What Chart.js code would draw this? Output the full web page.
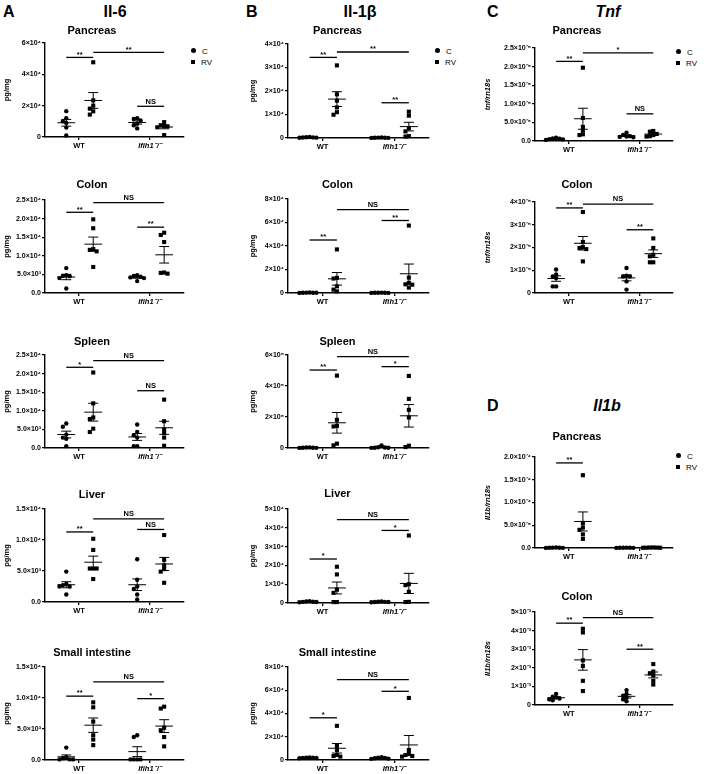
<!DOCTYPE html>
<html>
<head>
<meta charset="utf-8">
<script src="https://cdn.jsdelivr.net/npm/chart.js@4.4.1/dist/chart.umd.min.js"></script>
<style>
  body { margin: 0; background: #fff; }
  #fig { position: relative; width: 709px; height: 774px; overflow: hidden; font-family: 'Liberation Sans', Arial, sans-serif; color: #000; }
  .head { position: absolute; font-size: 16px; line-height: 16px; font-weight: bold; white-space: nowrap; color: #000; }
  .center { transform: translateX(-50%); }
  .leg { position: absolute; font-size: 8px; line-height: 8px; white-space: nowrap; color: #000; }
  .leg i { display: inline-block; width: 4px; height: 4px; background: #000; margin-right: 6px; vertical-align: 1px; }
  .leg i.dot { border-radius: 50%; width: 5px; height: 5px; }
</style>
</head>
<body>
<div id="fig"></div>
<script>
// x axis categories and legend
const xLabels = ['WT', 'Ifih1⁻/⁻'];
const seriesNames = ['C', 'RV'];

// ---- A: Il-6 (pg/mg) ----
const il6PancreasTicks = ['0', '2×10⁴', '4×10⁴', '6×10⁴'];
const il6PancreasWtC = [16500, 12000, 10000, 9000, 6000, 1000];
const il6PancreasWtRV = [47700, 23400, 20000, 18100, 16400, 14300];
const il6PancreasKoC = [12000, 11500, 10500, 8500, 7500, 5500];
const il6PancreasKoRV = [9500, 7500, 7000, 6800, 6200, 1200];
const il6PancreasSig = [['WT_C', 'WT_RV', 50800, '**'], ['WT_RV', 'KO_RV', 54000, '**'], ['KO_C', 'KO_RV', 19600, 'NS']];

const il6ColonTicks = ['0.0', '5.0×10³', '1.0×10⁴', '1.5×10⁴', '2.0×10⁴', '2.5×10⁴'];
const il6ColonWtC = [6700, 4800, 4600, 4500, 4000, 1200];
const il6ColonWtRV = [19800, 17400, 11800, 11600, 11200, 7000];
const il6ColonKoC = [4800, 4600, 4400, 4200, 4000, 3200];
const il6ColonKoRV = [16200, 15600, 13700, 5500, 5400, 5200];
const il6ColonSig = [['WT_C', 'WT_RV', 21700, '**'], ['WT_RV', 'KO_RV', 24300, 'NS'], ['KO_C', 'KO_RV', 17700, '**']];

const il6SpleenTicks = ['0.0', '5.0×10³', '1.0×10⁴', '1.5×10⁴', '2.0×10⁴', '2.5×10⁴'];
const il6SpleenWtC = [6600, 5700, 3600, 2800, 2500, 500];
const il6SpleenWtRV = [20300, 12000, 8200, 7800, 5200, 4300];
const il6SpleenKoC = [6300, 4300, 3400, 2800, 500, 500];
const il6SpleenKoRV = [13000, 7200, 5000, 4000, 2800, 600];
const il6SpleenSig = [['WT_C', 'WT_RV', 21700, '*'], ['WT_RV', 'KO_RV', 23500, 'NS'], ['KO_C', 'KO_RV', 15400, 'NS']];

const il6LiverTicks = ['0.0', '5.0×10³', '1.0×10⁴', '1.5×10⁴'];
const il6LiverWtC = [4900, 2900, 2700, 2500, 2500, 1200];
const il6LiverWtRV = [10200, 8400, 5400, 5400, 5400, 3700];
const il6LiverKoC = [6900, 3600, 2500, 2100, 1200, 400];
const il6LiverKoRV = [10800, 6800, 5900, 5300, 4900, 3100];
const il6LiverSig = [['WT_C', 'WT_RV', 11300, '**'], ['WT_RV', 'KO_RV', 13400, 'NS'], ['KO_C', 'KO_RV', 11700, 'NS']];

const il6SmallIntTicks = ['0.0', '5.0×10³', '1.0×10⁴', '1.5×10⁴'];
const il6SmallIntWtC = [2000, 500, 300, 100, 100, 100];
const il6SmallIntWtRV = [9300, 8500, 6200, 4000, 3300, 2400];
const il6SmallIntKoC = [4000, 3700, 100, 100, 100, 100];
const il6SmallIntKoRV = [8600, 8300, 5200, 4800, 3700, 2200];
const il6SmallIntSig = [['WT_C', 'WT_RV', 10300, '**'], ['WT_RV', 'KO_RV', 12600, 'NS'], ['KO_C', 'KO_RV', 9900, '*']];

// ---- B: Il-1β (pg/mg) ----
const il1bPancreasTicks = ['0', '1×10⁴', '2×10⁴', '3×10⁴', '4×10⁴'];
const il1bPancreasWtC = [400, 300, 250, 200, 150, 100];
const il1bPancreasWtRV = [30900, 18600, 15900, 13000, 11000, 9900];
const il1bPancreasKoC = [200, 150, 100, 100, 50, 50];
const il1bPancreasKoRV = [11200, 9500, 4200, 2800, 800, 600];
const il1bPancreasSig = [['WT_C', 'WT_RV', 34300, '**'], ['WT_RV', 'KO_RV', 36600, '**'], ['KO_C', 'KO_RV', 15000, '**']];

const il1bColonTicks = ['0', '2×10⁴', '4×10⁴', '6×10⁴', '8×10⁴'];
const il1bColonWtC = [400, 300, 250, 200, 150, 100];
const il1bColonWtRV = [37100, 12900, 12300, 5700, 2900, 1400];
const il1bColonKoC = [300, 250, 200, 150, 100, 100];
const il1bColonKoRV = [57400, 13100, 8600, 7400, 7100, 4600];
const il1bColonSig = [['WT_C', 'WT_RV', 45100, '**'], ['WT_RV', 'KO_RV', 70900, 'NS'], ['KO_C', 'KO_RV', 61700, '**']];

const il1bSpleenTicks = ['0', '2×10⁵', '4×10⁵', '6×10⁵'];
const il1bSpleenWtC = [4000, 3000, 2000, 1500, 1000, 500];
const il1bSpleenWtRV = [467000, 182000, 143000, 139000, 28000, 17000];
const il1bSpleenKoC = [17000, 5000, 3000, 2000, 2000, 1000];
const il1bSpleenKoRV = [465000, 317000, 246000, 197000, 15000, 6000];
const il1bSpleenSig = [['WT_C', 'WT_RV', 503000, '**'], ['WT_RV', 'KO_RV', 589000, 'NS'], ['KO_C', 'KO_RV', 525000, '*']];

const il1bLiverTicks = ['0', '1×10⁴', '2×10⁴', '3×10⁴', '4×10⁴', '5×10⁴'];
const il1bLiverWtC = [1000, 800, 700, 600, 500, 400];
const il1bLiverWtRV = [19300, 15200, 7100, 5400, 500, 500];
const il1bLiverKoC = [800, 700, 600, 500, 500, 400];
const il1bLiverKoRV = [35900, 10000, 9500, 6000, 600, 500];
const il1bLiverSig = [['WT_C', 'WT_RV', 23400, '*'], ['WT_RV', 'KO_RV', 44300, 'NS'], ['KO_C', 'KO_RV', 38600, '*']];

const il1bSmallIntTicks = ['0', '2×10⁴', '4×10⁴', '6×10⁴', '8×10⁴'];
const il1bSmallIntWtC = [2200, 2000, 2000, 1800, 1700, 1500];
const il1bSmallIntWtRV = [29400, 12000, 8600, 4300, 3400, 2900];
const il1bSmallIntKoC = [2500, 2000, 1800, 1500, 1200, 1000];
const il1bSmallIntKoRV = [53400, 8600, 5100, 4300, 3400, 2900];
const il1bSmallIntSig = [['WT_C', 'WT_RV', 36300, '*'], ['WT_RV', 'KO_RV', 69100, 'NS'], ['KO_C', 'KO_RV', 59100, '*']];

// ---- C: Tnf (tnf/rn18s) ----
const tnfPancreasTicks = ['0.0', '5.0×10⁻⁶', '1.0×10⁻⁵', '1.5×10⁻⁵', '2.0×10⁻⁵', '2.5×10⁻⁵'];
const tnfPancreasWtC = [9e-7, 7e-7, 6e-7, 5e-7, 4e-7, 3e-7];
const tnfPancreasWtRV = [1.97e-5, 6.2e-6, 3.8e-6, 2.8e-6, 1.8e-6, 1.6e-6];
const tnfPancreasKoC = [2.2e-6, 1.6e-6, 1.3e-6, 1.2e-6, 1.1e-6, 1.0e-6];
const tnfPancreasKoRV = [2.7e-6, 2.5e-6, 1.9e-6, 1.6e-6, 1.3e-6, 1.2e-6];
const tnfPancreasSig = [['WT_C', 'WT_RV', 2.14e-5, '**'], ['WT_RV', 'KO_RV', 2.37e-5, '*'], ['KO_C', 'KO_RV', 7.3e-6, 'NS']];

const tnfColonTicks = ['0', '1×10⁻⁵', '2×10⁻⁵', '3×10⁻⁵', '4×10⁻⁵'];
const tnfColonWtC = [1.03e-5, 8.1e-6, 7.3e-6, 6.6e-6, 2.9e-6, 2.9e-6];
const tnfColonWtRV = [3.56e-5, 2.24e-5, 2.02e-5, 1.98e-5, 1.93e-5, 1.39e-5];
const tnfColonKoC = [1.1e-5, 7.6e-6, 7.3e-6, 7.3e-6, 5.1e-6, 1.5e-6];
const tnfColonKoRV = [2.4e-5, 1.98e-5, 1.68e-5, 1.61e-5, 1.35e-5, 1.35e-5];
const tnfColonSig = [['WT_C', 'WT_RV', 3.74e-5, '**'], ['WT_RV', 'KO_RV', 3.91e-5, 'NS'], ['KO_C', 'KO_RV', 2.78e-5, '**']];

// ---- D: Il1b (Il1b/rn18s) ----
const il1bPcrPancreasTicks = ['0.0', '5.0×10⁻⁵', '1.0×10⁻⁴', '1.5×10⁻⁴', '2.0×10⁻⁴'];
const il1bPcrPancreasWtC = [1e-6, 8e-7, 6e-7, 5e-7, 3e-7, 2e-7];
const il1bPcrPancreasWtRV = [1.6e-4, 5.5e-5, 4.5e-5, 4e-5, 3e-5, 2e-5];
const il1bPcrPancreasKoC = [8e-7, 6e-7, 5e-7, 4e-7, 3e-7, 2e-7];
const il1bPcrPancreasKoRV = [1.2e-6, 1e-6, 8e-7, 7e-7, 6e-7, 5e-7];
const il1bPcrPancreasSig = [['WT_C', 'WT_RV', 1.87e-4, '**']];

const il1bPcrColonTicks = ['0', '1×10⁻³', '2×10⁻³', '3×10⁻³', '4×10⁻³', '5×10⁻³'];
const il1bPcrColonWtC = [6e-4, 4.5e-4, 4e-4, 3.5e-4, 3e-4, 2.5e-4];
const il1bPcrColonWtRV = [4.1e-3, 3.9e-3, 2.4e-3, 2.1e-3, 1.3e-3, 7.5e-4];
const il1bPcrColonKoC = [8e-4, 6e-4, 5e-4, 4e-4, 3e-4, 2e-4];
const il1bPcrColonKoRV = [2.2e-3, 1.8e-3, 1.7e-3, 1.6e-3, 1.3e-3, 1.1e-3];
const il1bPcrColonSig = [['WT_C', 'WT_RV', 4.4e-3, '**'], ['WT_RV', 'KO_RV', 4.7e-3, 'NS'], ['KO_C', 'KO_RV', 3.0e-3, '**']];

// ---------------------------------------------------------------
const FONT = "'Liberation Sans', Arial, sans-serif";
Chart.defaults.font.family = FONT;
Chart.defaults.color = '#000';

const fig = document.getElementById('fig');
const groupX = { WT_C: 0.82, WT_RV: 1.2, KO_C: 1.82, KO_RV: 2.2 };
const X_MIN = 0.52, X_MAX = 2.48;

const cols = {
  A: { left: 0, axis: 45, right: 184 },
  B: { left: 246, axis: 288, right: 429 },
  C: { left: 481, axis: 535, right: 673 }
};

const mean = a => a.reduce((s, v) => s + v, 0) / a.length;
const sem = a => {
  const m = mean(a);
  return Math.sqrt(a.reduce((s, v) => s + (v - m) ** 2, 0) / (a.length - 1) / a.length);
};

// spread overlapping points sideways, like a column scatter
function swarm(values, cx, ppx, ppy) {
  const step = 3.4;
  const placed = [];
  [...values].sort((a, b) => b - a).forEach(v => {
    for (let k = 0; k < 30; k++) {
      const off = (k % 2 ? -1 : 1) * Math.ceil(k / 2) * step;
      const py = v * ppy;
      if (placed.every(p => Math.hypot(p.px - off, p.py - py) >= step)) {
        placed.push({ px: off, py, v });
        break;
      }
    }
  });
  return placed.map(p => ({ x: cx + p.px / ppx, y: p.v }));
}

const meanSemPlugin = {
  id: 'meanSem',
  afterDatasetsDraw(chart, args, opts) {
    const { ctx } = chart;
    const x = chart.scales.x, y = chart.scales.y;
    ctx.save();
    ctx.strokeStyle = '#000';
    ctx.lineWidth = 1;
    opts.groups.forEach(g => {
      const m = mean(g.values), s = sem(g.values);
      const cx = x.getPixelForValue(g.x);
      const ym = y.getPixelForValue(m), yt = y.getPixelForValue(m + s), yb = y.getPixelForValue(Math.max(m - s, 0));
      const half = x.getPixelForValue(g.x + 0.125) - cx;
      const cap = x.getPixelForValue(g.x + 0.07) - cx;
      ctx.beginPath();
      ctx.moveTo(cx - half, ym); ctx.lineTo(cx + half, ym);
      ctx.moveTo(cx, yt); ctx.lineTo(cx, yb);
      ctx.moveTo(cx - cap, yt); ctx.lineTo(cx + cap, yt);
      ctx.moveTo(cx - cap, yb); ctx.lineTo(cx + cap, yb);
      ctx.stroke();
    });
    ctx.restore();
  }
};

const sigPlugin = {
  id: 'sig',
  afterDatasetsDraw(chart, args, opts) {
    const { ctx } = chart;
    const x = chart.scales.x, y = chart.scales.y;
    ctx.save();
    ctx.strokeStyle = '#000';
    ctx.fillStyle = '#000';
    ctx.lineWidth = 1.3;
    ctx.font = `bold 7.5px ${FONT}`;
    ctx.textAlign = 'center';
    ctx.textBaseline = 'bottom';
    opts.marks.forEach(([a, b, v, txt]) => {
      const x1 = x.getPixelForValue(groupX[a]), x2 = x.getPixelForValue(groupX[b]);
      const py = y.getPixelForValue(v);
      ctx.beginPath();
      ctx.moveTo(x1, py); ctx.lineTo(x2, py);
      ctx.stroke();
      ctx.fillText(txt, (x1 + x2) / 2, py - (txt === 'NS' ? 1 : -1));
    });
    ctx.restore();
  }
};

function makePanel(p) {
  const col = cols[p.col];
  const X_H = 18;
  const canvasTop = Math.round(p.titleY - 9);
  const titleBlock = p.top - canvasTop;
  const w = col.right - col.left + 4;
  const h = titleBlock + (p.bottom - p.top) + X_H;
  const canvas = document.createElement('canvas');
  canvas.width = w;
  canvas.height = h;
  canvas.style.cssText = `position:absolute;left:${col.left}px;top:${canvasTop}px;width:${w}px;height:${h}px;`;
  fig.appendChild(canvas);

  const ppx = (col.right - col.axis) / (X_MAX - X_MIN);
  const ppy = (p.bottom - p.top) / p.yMax;
  const [wtC, wtRV, koC, koRV] = p.values;
  const axisLine = { color: '#000', width: 1.4 };
  const tickMarks = { drawOnChartArea: false, drawTicks: true, tickLength: 3, color: '#000', lineWidth: 1.3 };

  new Chart(canvas.getContext('2d'), {
    type: 'scatter',
    data: {
      datasets: [
        {
          label: seriesNames[0],
          data: [...swarm(wtC, groupX.WT_C, ppx, ppy), ...swarm(koC, groupX.KO_C, ppx, ppy)],
          pointStyle: 'circle', pointRadius: 2.2, backgroundColor: '#000', borderColor: '#000', borderWidth: 0, clip: false
        },
        {
          label: seriesNames[1],
          data: [...swarm(wtRV, groupX.WT_RV, ppx, ppy), ...swarm(koRV, groupX.KO_RV, ppx, ppy)],
          pointStyle: 'rect', pointRadius: 2.9, backgroundColor: '#000', borderColor: '#000', borderWidth: 0, clip: false
        }
      ]
    },
    options: {
      responsive: false,
      animation: false,
      events: [],
      layout: { padding: { top: 0, right: 4, bottom: 0, left: 0 } },
      plugins: {
        legend: { display: false },
        tooltip: { enabled: false },
        title: {
          display: true,
          text: p.title,
          font: { size: 11, weight: 'bold' },
          padding: { top: 2, bottom: titleBlock - 2 - 13.2 }
        },
        meanSem: {
          groups: [
            { x: groupX.WT_C, values: wtC }, { x: groupX.WT_RV, values: wtRV },
            { x: groupX.KO_C, values: koC }, { x: groupX.KO_RV, values: koRV }
          ]
        },
        sig: { marks: p.sig }
      },
      scales: {
        x: {
          type: 'linear',
          min: X_MIN,
          max: X_MAX,
          afterBuildTicks: s => { s.ticks = [{ value: 1 }, { value: 2 }]; },
          afterFit: s => { s.height = X_H; },
          ticks: {
            autoSkip: false,
            maxRotation: 0,
            padding: 1,
            callback: (v, i) => xLabels[i],
            font: c => ({ size: 7.5, weight: 'bold', style: c.index === 1 ? 'italic' : 'normal' })
          },
          grid: tickMarks,
          border: axisLine
        },
        y: {
          min: 0,
          max: p.yMax,
          afterBuildTicks: s => {
            s.ticks = p.ticks.map((_, i) => ({ value: i * p.yMax / (p.ticks.length - 1) }));
          },
          afterFit: s => { s.width = col.axis - col.left; },
          ticks: {
            autoSkip: false,
            padding: 1,
            callback: (v, i) => p.ticks[i],
            font: { size: 7, weight: 'bold' }
          },
          title: {
            display: true,
            text: p.yTitle,
            font: { size: 7.5, weight: 'bold', style: p.yItalic ? 'italic' : 'normal' },
            padding: { top: 2, bottom: 0 }
          },
          grid: tickMarks,
          border: axisLine
        }
      }
    },
    plugins: [meanSemPlugin, sigPlugin]
  });
}

function addText(cls, text, left, top, style) {
  const d = document.createElement('div');
  d.className = cls;
  d.textContent = text;
  d.style.left = left + 'px';
  d.style.top = top + 'px';
  if (style) d.style.cssText += style;
  fig.appendChild(d);
}

function addLegend(left, top) {
  seriesNames.forEach((name, i) => {
    const d = document.createElement('div');
    d.className = 'leg';
    d.style.left = left + 'px';
    d.style.top = (top + i * 11) + 'px';
    d.innerHTML = `<i class="${i === 0 ? 'dot' : ''}"></i>${name}`;
    fig.appendChild(d);
  });
}

// column letters and headers
addText('head', 'A', 3, 4);
addText('head center', 'Il-6', 115, 4);
addText('head', 'B', 246, 4);
addText('head center', 'Il-1β', 360, 4);
addText('head', 'C', 487, 4);
addText('head center', 'Tnf', 608, 4, 'font-style:italic;');
addText('head', 'D', 487, 398);
addText('head center', 'Il1b', 607, 398, 'font-style:italic;');

addLegend(191, 48);
addLegend(435, 48);
addLegend(676, 49);
addLegend(676, 453);

const panels = [
  { col: 'A', title: 'Pancreas', titleY: 31, top: 43, bottom: 137, yMax: 6e4, ticks: il6PancreasTicks, values: [il6PancreasWtC, il6PancreasWtRV, il6PancreasKoC, il6PancreasKoRV], sig: il6PancreasSig, yTitle: 'pg/mg' },
  { col: 'A', title: 'Colon', titleY: 185, top: 200, bottom: 293, yMax: 2.5e4, ticks: il6ColonTicks, values: [il6ColonWtC, il6ColonWtRV, il6ColonKoC, il6ColonKoRV], sig: il6ColonSig, yTitle: 'pg/mg' },
  { col: 'A', title: 'Spleen', titleY: 342, top: 355, bottom: 448, yMax: 2.5e4, ticks: il6SpleenTicks, values: [il6SpleenWtC, il6SpleenWtRV, il6SpleenKoC, il6SpleenKoRV], sig: il6SpleenSig, yTitle: 'pg/mg' },
  { col: 'A', title: 'Liver', titleY: 495, top: 509, bottom: 602, yMax: 1.5e4, ticks: il6LiverTicks, values: [il6LiverWtC, il6LiverWtRV, il6LiverKoC, il6LiverKoRV], sig: il6LiverSig, yTitle: 'pg/mg' },
  { col: 'A', title: 'Small intestine', titleY: 653, top: 667, bottom: 760, yMax: 1.5e4, ticks: il6SmallIntTicks, values: [il6SmallIntWtC, il6SmallIntWtRV, il6SmallIntKoC, il6SmallIntKoRV], sig: il6SmallIntSig, yTitle: 'pg/mg' },

  { col: 'B', title: 'Pancreas', titleY: 31, top: 44, bottom: 138, yMax: 4e4, ticks: il1bPancreasTicks, values: [il1bPancreasWtC, il1bPancreasWtRV, il1bPancreasKoC, il1bPancreasKoRV], sig: il1bPancreasSig, yTitle: 'pg/mg' },
  { col: 'B', title: 'Colon', titleY: 185, top: 199, bottom: 293, yMax: 8e4, ticks: il1bColonTicks, values: [il1bColonWtC, il1bColonWtRV, il1bColonKoC, il1bColonKoRV], sig: il1bColonSig, yTitle: 'pg/mg' },
  { col: 'B', title: 'Spleen', titleY: 342, top: 355, bottom: 448, yMax: 6e5, ticks: il1bSpleenTicks, values: [il1bSpleenWtC, il1bSpleenWtRV, il1bSpleenKoC, il1bSpleenKoRV], sig: il1bSpleenSig, yTitle: 'pg/mg' },
  { col: 'B', title: 'Liver', titleY: 494, top: 509, bottom: 603, yMax: 5e4, ticks: il1bLiverTicks, values: [il1bLiverWtC, il1bLiverWtRV, il1bLiverKoC, il1bLiverKoRV], sig: il1bLiverSig, yTitle: 'pg/mg' },
  { col: 'B', title: 'Small intestine', titleY: 653, top: 667, bottom: 760, yMax: 8e4, ticks: il1bSmallIntTicks, values: [il1bSmallIntWtC, il1bSmallIntWtRV, il1bSmallIntKoC, il1bSmallIntKoRV], sig: il1bSmallIntSig, yTitle: 'pg/mg' },

  { col: 'C', title: 'Pancreas', titleY: 31, top: 48, bottom: 141, yMax: 2.5e-5, ticks: tnfPancreasTicks, values: [tnfPancreasWtC, tnfPancreasWtRV, tnfPancreasKoC, tnfPancreasKoRV], sig: tnfPancreasSig, yTitle: 'tnf/rn18s', yItalic: true },
  { col: 'C', title: 'Colon', titleY: 185, top: 202, bottom: 293, yMax: 4e-5, ticks: tnfColonTicks, values: [tnfColonWtC, tnfColonWtRV, tnfColonKoC, tnfColonKoRV], sig: tnfColonSig, yTitle: 'tnf/rn18s', yItalic: true },
  { col: 'C', title: 'Pancreas', titleY: 437, top: 457, bottom: 548, yMax: 2e-4, ticks: il1bPcrPancreasTicks, values: [il1bPcrPancreasWtC, il1bPcrPancreasWtRV, il1bPcrPancreasKoC, il1bPcrPancreasKoRV], sig: il1bPcrPancreasSig, yTitle: 'Il1b/rn18s', yItalic: true },
  { col: 'C', title: 'Colon', titleY: 597, top: 612, bottom: 705, yMax: 5e-3, ticks: il1bPcrColonTicks, values: [il1bPcrColonWtC, il1bPcrColonWtRV, il1bPcrColonKoC, il1bPcrColonKoRV], sig: il1bPcrColonSig, yTitle: 'Il1b/rn18s', yItalic: true }
];

panels.forEach(makePanel);
</script>
</body>
</html>
